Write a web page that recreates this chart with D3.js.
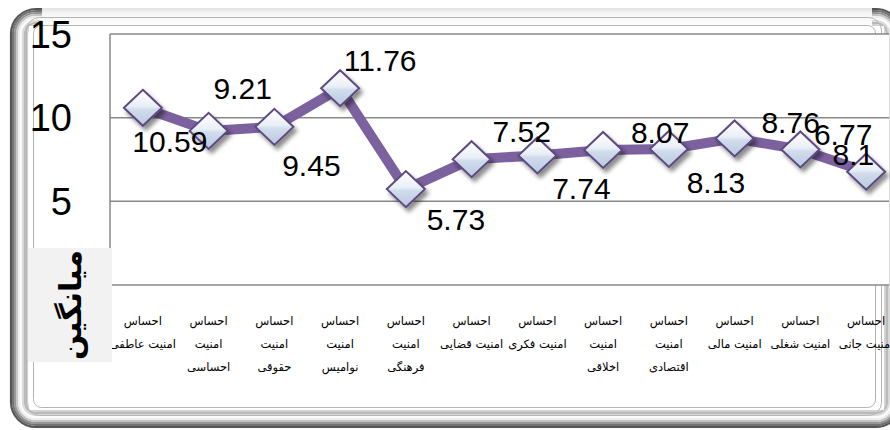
<!DOCTYPE html>
<html>
<head>
<meta charset="utf-8">
<script src="https://cdn.jsdelivr.net/npm/d3@7"></script>
<style>
body{margin:0;background:#fff;}
svg{display:block;}
</style>
</head>
<body>
<svg id="chart" width="890" height="430"></svg>
<script>
// chart data
var categories=[
	"احساس\nامنیت عاطفی",
	"احساس\nامنیت\nاحساسی",
	"احساس\nامنیت\nحقوقی",
	"احساس\nامنیت\nنوامیس",
	"احساس\nامنیت\nفرهنگی",
	"احساس\nامنیت قضایی",
	"احساس\nامنیت فکری",
	"احساس\nامنیت\nاخلاقی",
	"احساس\nامنیت\nاقتصادی",
	"احساس\nامنیت مالی",
	"احساس\nامنیت شغلی",
	"احساس\nامنیت جانی"
];
var values=[10.59,9.21,9.45,11.76,5.73,7.52,7.74,8.07,8.13,8.76,8.1,6.77];
var yTicks=[5,10,15];
var yTitle="میانگین";

// where each value label sits relative to its marker (dx,dy)
var labelOffsets=[[27,33],[34,-43],[37,38],[40,-28],[50,30],[50,-28],[44,33],[57,-18],[47,33],[56,-16],[53,5],[-23,-38]];

var svg=d3.select("#chart");
var defs=svg.append("defs");

var plot={left:110,top:34,bottom:285,right:889};
var step=65.75;

var x=d3.scaleBand()
	.domain(d3.range(categories.length))
	.range([plot.left,plot.left+step*categories.length]);
var y=d3.scaleLinear().domain([0,15]).range([plot.bottom,plot.top]);

// gradients + shadow
var mg=defs.append("linearGradient").attr("id","markerFill")
	.attr("x1","0").attr("y1","0").attr("x2","0").attr("y2","1");
mg.append("stop").attr("offset","0%").attr("stop-color","#ffffff");
mg.append("stop").attr("offset","45%").attr("stop-color","#eaeff7");
mg.append("stop").attr("offset","55%").attr("stop-color","#d0dcec");
mg.append("stop").attr("offset","100%").attr("stop-color","#b9c9df");

var sh=defs.append("filter").attr("id","shadow")
	.attr("x","-50%").attr("y","-50%").attr("width","200%").attr("height","200%");
sh.append("feDropShadow").attr("dx",3).attr("dy",4).attr("stdDeviation",2)
	.attr("flood-color","#000").attr("flood-opacity",0.45);

var topG=defs.append("linearGradient").attr("id","topBevel")
	.attr("x1","0").attr("y1","0").attr("x2","0").attr("y2","1");
topG.append("stop").attr("offset","0%").attr("stop-color","#e2e2e2");
topG.append("stop").attr("offset","30%").attr("stop-color","#f6f6f6");
topG.append("stop").attr("offset","100%").attr("stop-color","#fdfdfd");

// beveled outer frame
var bevelColors=["#555","#727272","#959595","#c4c4c4","#eeeeee","#fcfcfc","#dadada","#b9b9b9","#d2d2d2"];
var frame=svg.append("g").attr("class","frame");
bevelColors.forEach(function(c,i){
	var inset=1+i*2;
	frame.append("rect")
		.attr("x",10+inset).attr("y",8+inset)
		.attr("width",892-inset*2).attr("height",420-inset*2)
		.attr("rx",Math.max(26-inset,6))
		.attr("fill","none")
		.attr("stroke",c)
		.attr("stroke-width",2.2);
});
frame.append("rect").attr("x",29).attr("y",26).attr("width",855).attr("height",384).attr("fill","#fff");
// top edge is lighter
frame.append("rect").attr("x",42).attr("y",8).attr("width",830).attr("height",18).attr("fill","url(#topBevel)");

// inner thin frames
frame.append("rect").attr("x",26.5).attr("y",17.5).attr("width",855).attr("height",398)
	.attr("rx",13).attr("fill","none").attr("stroke","#b4b4b4");
frame.append("rect").attr("x",33.5).attr("y",25.5).attr("width",842).attr("height",382)
	.attr("rx",8).attr("fill","none").attr("stroke","#b4b4b4");

// plot area
svg.append("rect")
	.attr("x",plot.left).attr("y",plot.top)
	.attr("width",plot.right-plot.left).attr("height",plot.bottom-plot.top)
	.attr("fill","#fff");

var grid=svg.append("g").attr("class","grid");
grid.selectAll("line").data([0].concat(yTicks)).enter().append("line")
	.attr("x1",plot.left).attr("x2",plot.right)
	.attr("y1",function(d){return y(d);})
	.attr("y2",function(d){return y(d);})
	.attr("stroke","#888")
	.attr("stroke-width",1.5);
svg.append("line")
	.attr("x1",plot.left).attr("x2",plot.left)
	.attr("y1",plot.top).attr("y2",plot.bottom)
	.attr("stroke","#888").attr("stroke-width",1.5);

// y tick labels
svg.append("g").selectAll("text").data(yTicks).enter().append("text")
	.attr("x",72)
	.attr("y",function(d){return y(d);})
	.attr("dy","0.36em")
	.attr("text-anchor","end")
	.style("font-family","'Liberation Sans', Arial, sans-serif")
	.style("font-size","38px")
	.attr("fill","#000")
	.text(function(d){return d;});

// category labels
var cat=svg.append("g").attr("class","categories");
categories.forEach(function(c,i){
	var t=cat.append("text")
		.attr("text-anchor","middle")
		.style("font-family","'DejaVu Sans', Tahoma, sans-serif")
		.style("font-size","11.5px")
		.attr("fill","#000");
	c.split("\n").forEach(function(line,j){
		t.append("tspan")
			.attr("x",x(i)+x.bandwidth()/2)
			.attr("y",325+j*23)
			.text(line);
	});
});

// y axis title box
svg.append("rect").attr("x",28).attr("y",248).attr("width",84).attr("height",114).attr("fill","#f2f2f2");
svg.append("text")
	.attr("transform","translate(72,305) rotate(-90)")
	.attr("text-anchor","middle")
	.attr("dy","0.3em")
	.style("font-family","'DejaVu Sans', Tahoma, sans-serif")
	.style("font-size","30px")
	.style("font-weight","bold")
	.attr("fill","#000")
	.text(yTitle);

// series line
var line=d3.line()
	.x(function(d,i){return x(i)+x.bandwidth()/2;})
	.y(function(d){return y(d);});
svg.append("path")
	.datum(values)
	.attr("d",line)
	.attr("fill","none")
	.attr("stroke","#7c619f")
	.attr("stroke-width",10)
	.attr("stroke-linejoin","round");

// markers
svg.append("g").selectAll("path").data(values).enter().append("path")
	.attr("transform",function(d,i){return "translate("+(x(i)+x.bandwidth()/2)+","+y(d)+")";})
	.attr("d","M0,-18L19,0L0,18L-19,0Z")
	.attr("fill","url(#markerFill)")
	.attr("stroke","#5d4a80")
	.attr("stroke-width",2)
	.attr("filter","url(#shadow)");

// value labels
svg.append("g").selectAll("text").data(values).enter().append("text")
	.attr("x",function(d,i){return x(i)+x.bandwidth()/2+labelOffsets[i][0];})
	.attr("y",function(d,i){return y(d)+labelOffsets[i][1];})
	.attr("dy","0.36em")
	.attr("text-anchor","middle")
	.style("font-family","'Liberation Sans', Arial, sans-serif")
	.style("font-size","30px")
	.attr("fill","#000")
	.text(function(d){return d;});
</script>
</body>
</html>
